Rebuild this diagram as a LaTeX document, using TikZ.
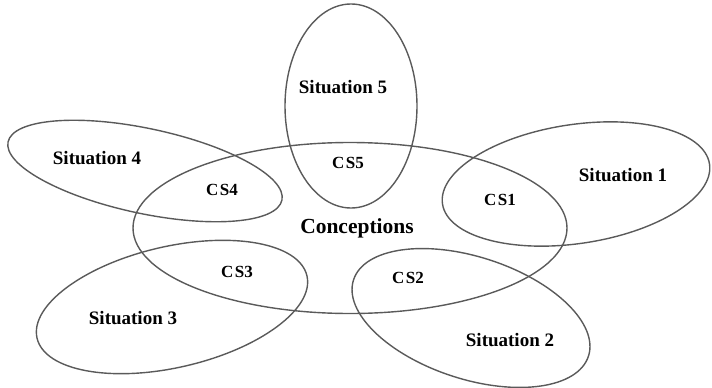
\documentclass[tikz,border=0pt]{standalone}
\usepackage{fontspec}
\setmainfont{Liberation Serif}
\usetikzlibrary{shapes.geometric}
\definecolor{rim}{RGB}{90,90,90}
\newcommand{\cslab}[1]{C\kern1.5pt S#1}
\begin{document}
\begin{tikzpicture}[x=1pt,y=-1pt,
  blob/.style={ellipse, draw=rim, line width=1.4pt, inner sep=0pt},
  sit/.style={font=\fontsize{19}{19}\selectfont\bfseries, inner sep=0pt},
  cs/.style={font=\fontsize{17}{17}\selectfont\bfseries, inner sep=0pt},
  core/.style={font=\fontsize{21.5}{21.5}\selectfont\bfseries, inner sep=0pt}]
\useasboundingbox (0,0) rectangle (712,388);
% the central set of conceptions
\node[blob, minimum width=434pt, minimum height=171pt] (conc) at (350,228) {};
% the five situations around it
\node[blob, minimum width=132pt, minimum height=204pt] (s5) at (351,106) {};
\node[blob, minimum width=280pt, minimum height=85pt, rotate=-12] (s4) at (145,171) {};
\node[blob, minimum width=270pt, minimum height=119pt, rotate=8.5] (s1) at (576,184) {};
\node[blob, minimum width=277pt, minimum height=121pt, rotate=13] (s3) at (172,307) {};
\node[blob, minimum width=247pt, minimum height=122pt, rotate=-18] (s2) at (471,318) {};
% labels
\node[core] (lconc) at (357,228) {Conceptions};
\node[sit] (ls5) at (343,87) {Situation 5};
\node[sit] (ls4) at (97,158) {Situation 4};
\node[sit] (ls1) at (623,175) {Situation 1};
\node[sit] (ls3) at (133,318) {Situation 3};
\node[sit] (ls2) at (510,340) {Situation 2};
\node[cs] (c5) at (348,163) {\cslab{5}};
\node[cs] (c4) at (222,190) {\cslab{4}};
\node[cs] (c1) at (500,200) {\cslab{1}};
\node[cs] (c3) at (237,272) {\cslab{3}};
\node[cs] (c2) at (408,278) {\cslab{2}};
\end{tikzpicture}
\end{document}
